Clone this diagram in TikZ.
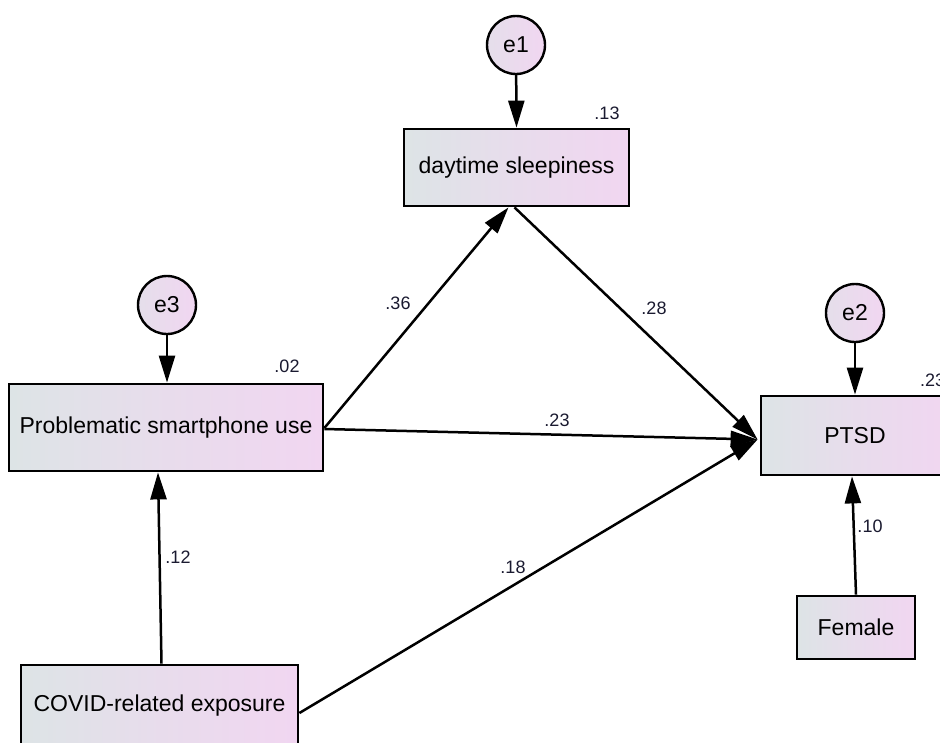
\documentclass[tikz,border=0pt]{standalone}
\usepackage{fontspec}
\setmainfont{Liberation Sans}
\usetikzlibrary{arrows.meta,calc}
\definecolor{gl}{HTML}{DDE4E6}
\definecolor{gr}{HTML}{F1D6F1}
\definecolor{numc}{HTML}{1A1A30}
\tikzset{
  varbox/.style={draw=black, line width=2.8pt, rectangle, left color=gl, right color=gr,
    middle color=gl!45!gr, font=\fontsize{23}{27}\selectfont, text=black, inner sep=0pt},
  errc/.style={draw=black, line width=2.4pt, circle, minimum size=58pt, inner sep=0pt,
    left color=gl!60!gr, right color=gr, font=\fontsize{23}{27}\selectfont},
  coef/.style={font=\fontsize{18}{20}\selectfont, text=numc, inner sep=0pt},
  path/.style={line width=2.5pt, -{Triangle[length=27pt,width=16pt]}},
}
\begin{document}
\begin{tikzpicture}[x=1pt,y=-1pt]
\clip (0,0) rectangle (940,742);
\fill[white] (0,0) rectangle (940,742);
% boxes
\node[varbox, minimum width=225pt, minimum height=77pt] (ds) at (516.5,167.5) {daytime sleepiness};
\node[varbox, minimum width=314pt, minimum height=87pt] (psu) at (166,427.5) {Problematic smartphone use};
\node[varbox, minimum width=188pt, minimum height=79pt] (ptsd) at (855,435.5) {PTSD};
\node[varbox, minimum width=277pt, minimum height=82pt] (covid) at (159.5,706) {COVID-related exposure};
\node[varbox, minimum width=118pt, minimum height=63pt] (fem) at (856,627.5) {Female};
% error terms
\node[errc] (e1) at (516,45) {e1};
\node[errc] (e3) at (167,305) {e3};
\node[errc] (e2) at (855,313) {e2};
% squared multiple correlations
\node[coef] (r1) at (607,113) {.13};
\node[coef] (r3) at (287,366) {.02};
\node[coef, anchor=west] (r2) at (920,380) {.23};
% paths
\coordinate (pin) at ($(ptsd.west)+(-2,4)$);
\draw[path] (e1) -- (ds.north);
\draw[path] (e3) -- (e3 |- psu.north);
\draw[path] (e2) -- (ptsd.north);
\draw[path] ($(psu.east)+(0,0.5)$) -- ($(ds.south)+(-8,0)$);
\draw[path] ($(ds.south)+(-2,0)$) -- (pin);
\draw[path] ($(psu.east)+(0,1.5)$) -- (pin);
\draw[path] ($(covid.east)+(0,7)$) -- (pin);
\draw[path] ($(covid.north)+(2,0)$) -- ($(psu.south)+(-8,0)$);
\draw[path] (fem.north) -- ($(ptsd.south)+(-3,0)$);
% coefficients
\node[coef] (c36) at (398,303) {.36};
\node[coef] (c28) at (654,308) {.28};
\node[coef] (c23) at (557,420) {.23};
\node[coef] (c12) at (178,557) {.12};
\node[coef] (c18) at (513,567) {.18};
\node[coef] (c10) at (870,526) {.10};
\end{tikzpicture}
\end{document}
